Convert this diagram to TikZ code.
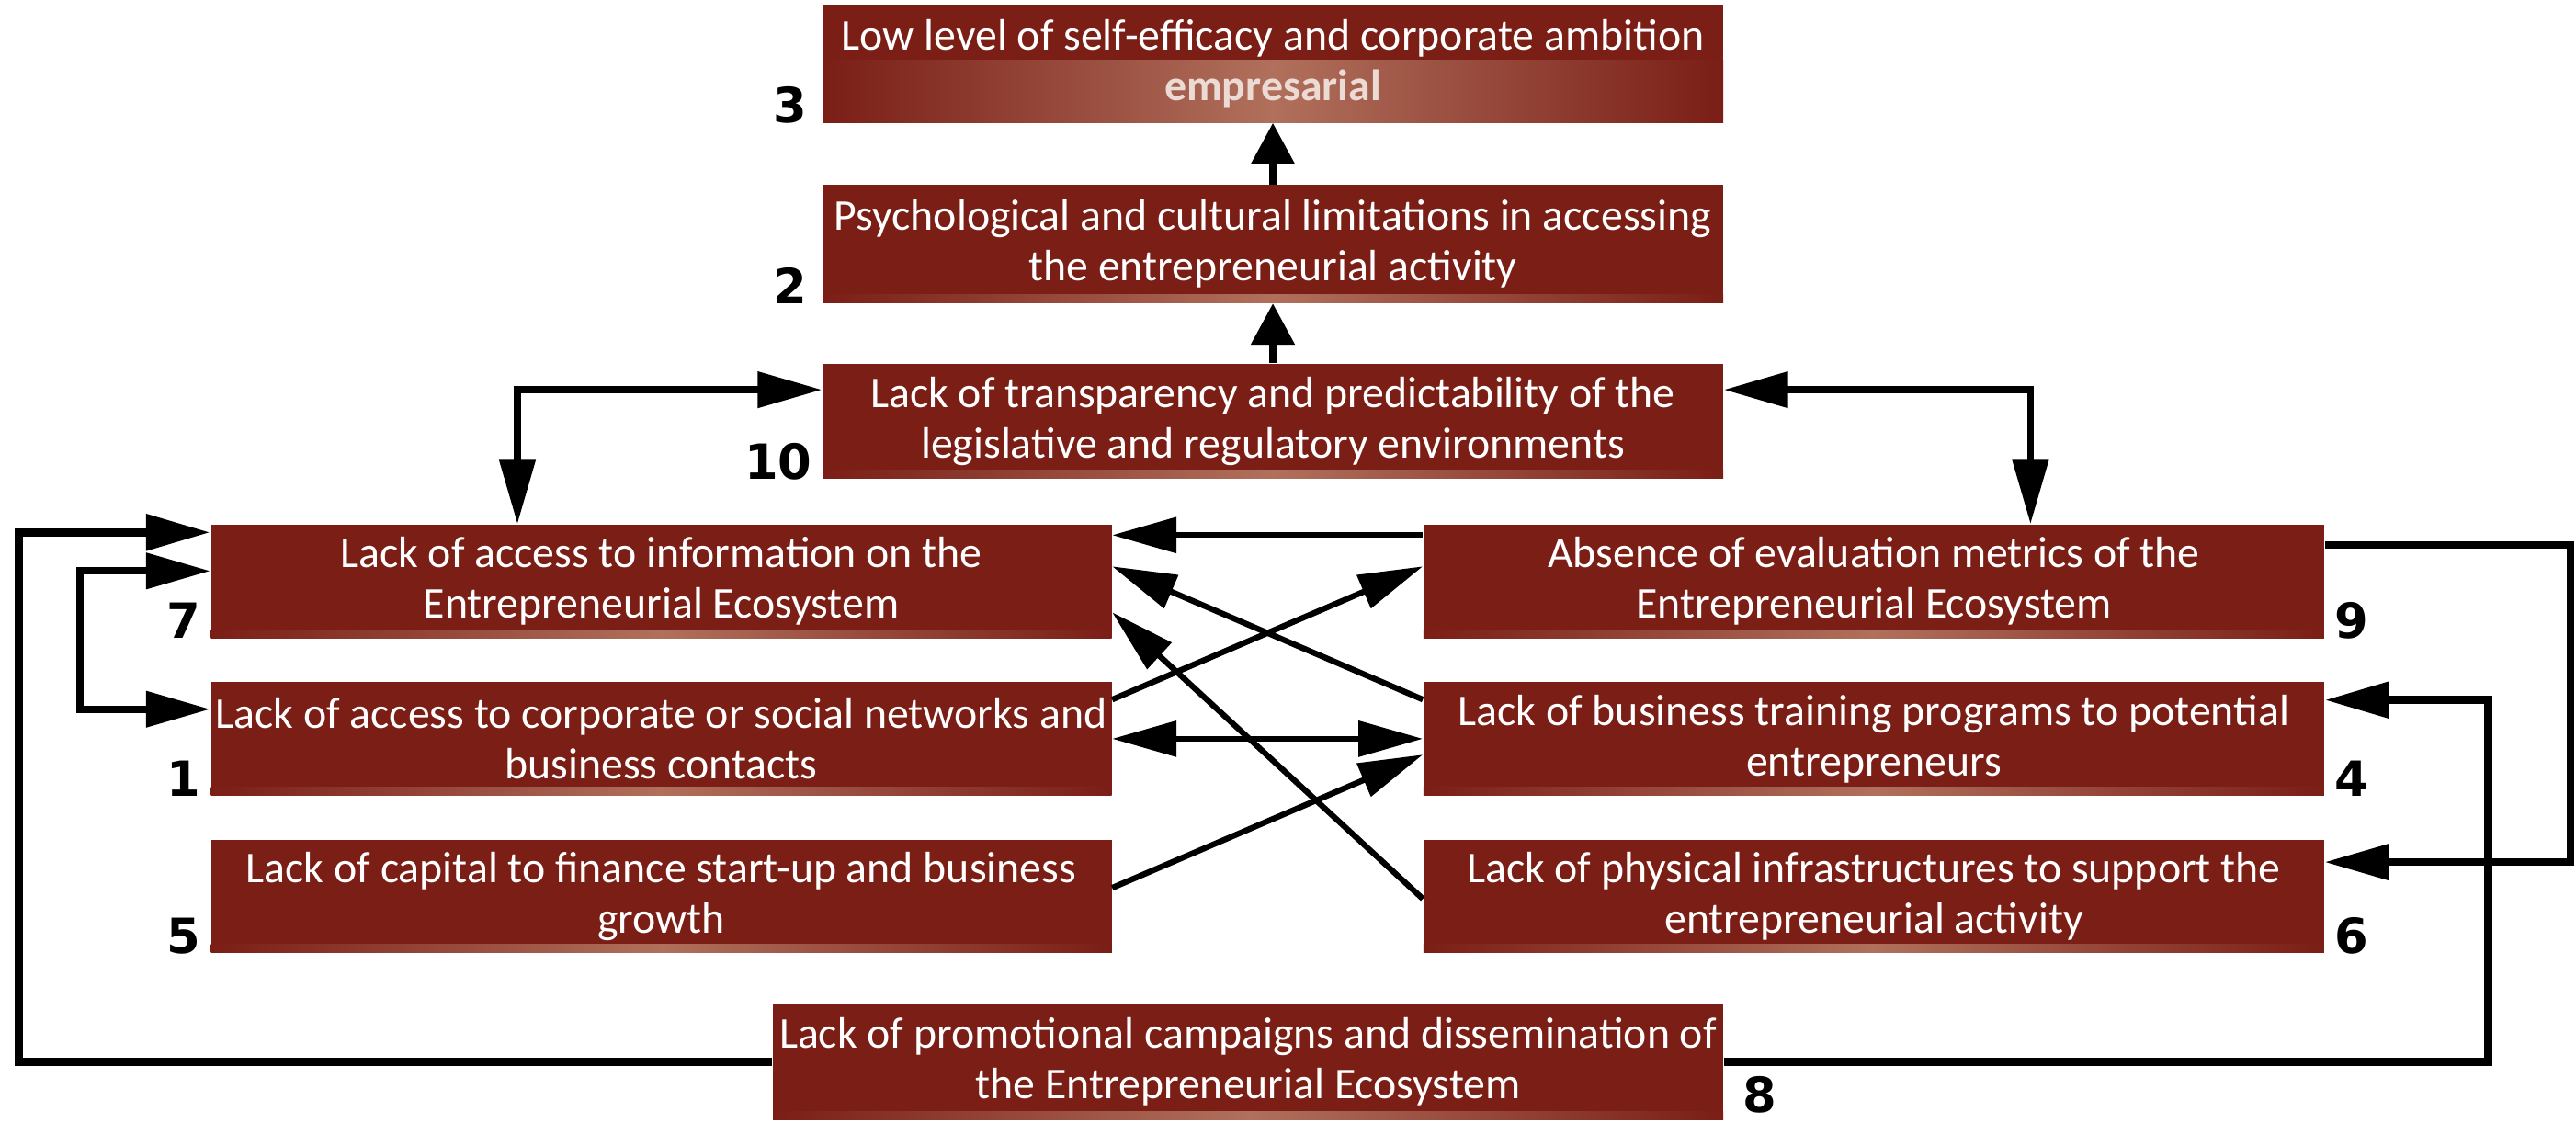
\documentclass[tikz,border=0pt]{standalone}
\usepackage{fontspec}
\setmainfont{Carlito}
\newfontfamily\numfont{DejaVu Sans}
\usetikzlibrary{arrows.meta,positioning}
\definecolor{boxred}{RGB}{122,30,22}
\definecolor{glowred}{RGB}{176,112,92}
\definecolor{fadetext}{RGB}{236,218,212}

\begin{document}
\begin{tikzpicture}[
  font=\fontsize{13.6}{15.6}\selectfont,
  node distance=4.7mm and 33.8mm,
  causebase/.style={fill=boxred,text=white,align=center,minimum width=98mm,minimum height=12.3mm,inner xsep=0.3mm,inner ysep=0mm},
  cause/.style={causebase,path picture={\shade[left color=boxred,right color=boxred,middle color=glowred] (path picture bounding box.south west) rectangle ([yshift=0.9mm]path picture bounding box.south east);}},
  topcause/.style={causebase,minimum height=12.8mm,path picture={\shade[left color=boxred,right color=boxred,middle color=glowred] (path picture bounding box.south west) rectangle ([yshift=6.8mm]path picture bounding box.south east);}},
  num/.style={font=\numfont\bfseries\fontsize{15}{15}\selectfont,inner sep=0pt},
  ar/.style={line width=2.2pt,-{Triangle[length=7mm,width=3.8mm]}},
  biar/.style={line width=2.2pt,{Triangle[length=7mm,width=3.8mm]}-{Triangle[length=7mm,width=3.8mm]}},
  upar/.style={line width=2.4pt,-{Triangle[length=4.5mm,width=4.6mm]}},
  cross/.style={ar,line width=1.8pt}
]
\useasboundingbox (0,0) rectangle (28.03,-12.21);

% causes
\node[topcause] (b3) at (13.85,-0.69) {Low level of self-efficacy and corporate ambition\\{\bfseries\color{fadetext}empresarial}};
\node[cause,minimum height=12.8mm,below=6.7mm of b3] (b2) {Psychological and cultural limitations in accessing\\the entrepreneurial activity};
\node[cause,minimum height=12.5mm,below=6.5mm of b2] (b10) {Lack of transparency and predictability of the\\legislative and regulatory environments};
\node[cause] (b7) at (7.195,-6.325) {Lack of access to information on the\\Entrepreneurial Ecosystem};
\node[cause,right=of b7] (b9) {Absence of evaluation metrics of the\\Entrepreneurial Ecosystem};
\node[cause,below=of b7] (b1) {Lack of access to corporate or social networks and\\business contacts};
\node[cause,below=of b9] (b4) {Lack of business training programs to potential\\entrepreneurs};
\node[cause,below=of b1] (b5) {Lack of capital to finance start-up and business\\growth};
\node[cause,below=of b4] (b6) {Lack of physical infrastructures to support the\\entrepreneurial activity};
\node[cause,minimum width=103.4mm,minimum height=12.5mm] (b8) at (13.58,-11.555) {Lack of promotional campaigns and dissemination of\\the Entrepreneurial Ecosystem};

% numbers
\node[num,anchor=base east] (n3) at ([xshift=-1.5mm]b3.south west) {3};
\node[num,anchor=base east] (n2) at ([xshift=-1.5mm]b2.south west) {2};
\node[num,anchor=base east] (n10) at ([xshift=-1mm]b10.south west) {10};
\node[num,anchor=base east] (n7) at ([xshift=-1mm]b7.south west) {7};
\node[num,anchor=base east] (n1) at ([xshift=-1mm]b1.south west) {1};
\node[num,anchor=base east] (n5) at ([xshift=-1mm]b5.south west) {5};
\node[num,anchor=base west] (n9) at ([xshift=1mm]b9.south east) {9};
\node[num,anchor=base west] (n4) at ([xshift=1mm]b4.south east) {4};
\node[num,anchor=base west] (n6) at ([xshift=1mm]b6.south east) {6};
\node[num,anchor=base west] (n8) at ([xshift=2mm,yshift=0.8mm]b8.south east) {8};

% links
\draw[upar] (b2.north) -- (b3.south);
\draw[upar] (b10.north) -- (b2.south);
\draw[biar] ([yshift=-2.9mm]b10.north west) -| ([xshift=-15.65mm]b7.north);
\draw[biar] ([yshift=-2.9mm]b10.north east) -| ([xshift=17.05mm]b9.north);
\draw[cross] ([yshift=-1.2mm]b9.north west) -- ([yshift=-1.2mm]b7.north east);
\draw[cross] ([yshift=-1.95mm]b4.north west) -- ([yshift=-4.6mm]b7.north east);
\draw[cross] ([yshift=-6.5mm]b6.north west) -- ([yshift=-9.6mm]b7.north east);
\draw[cross] ([yshift=-1.95mm]b1.north east) -- ([yshift=-4.6mm]b9.north west);
\draw[biar,line width=1.8pt] (b1.east) -- (b4.west);
\draw[cross] ([yshift=-5.3mm]b5.north east) -- ([yshift=-7.95mm]b4.north west);
\draw[biar] ([yshift=-5.1mm]b7.north west) -- ++(-1.42,0) |- ([yshift=-3mm]b1.north west);
\draw[ar,line width=2.6pt] (b8.west) -- ++(-8.2,0) |- ([yshift=-0.9mm]b7.north west);
\draw[ar,line width=2.6pt] (b8.east) -- ++(8.32,0) |- ([yshift=-2mm]b4.north east);
\draw[ar] ([yshift=-2.3mm]b9.north east) -- ++(2.675,0) |- ([yshift=-2.5mm]b6.north east);
\end{tikzpicture}
\end{document}
